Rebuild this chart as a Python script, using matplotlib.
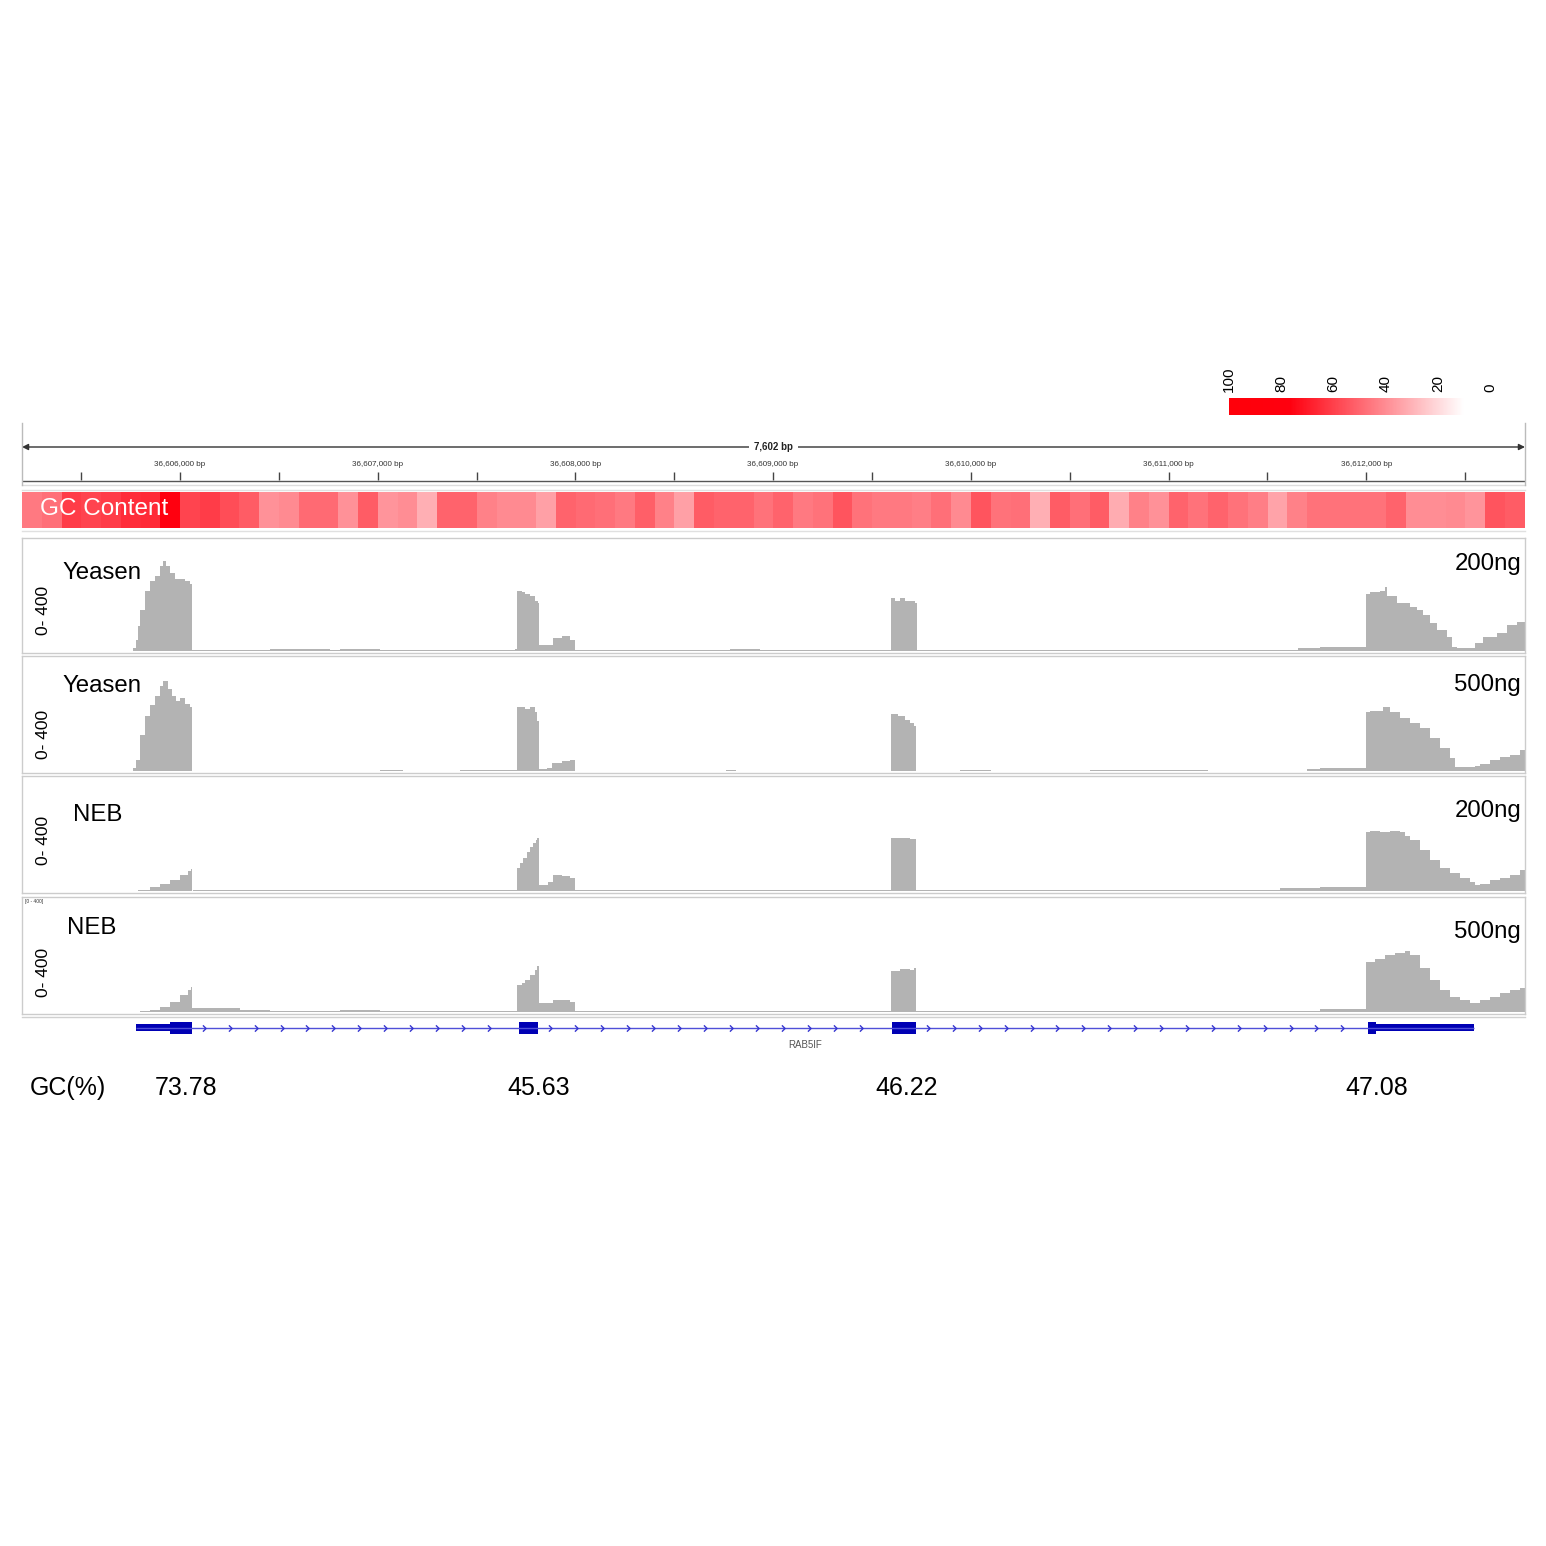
import numpy as np
import matplotlib
matplotlib.use("Agg")
import matplotlib.pyplot as plt
from matplotlib.colors import LinearSegmentedColormap, Normalize
from matplotlib.path import Path
from matplotlib.lines import Line2D

plt.rcParams['font.family'] = ['Liberation Sans', 'DejaVu Sans']

# ---------------- data ----------------
VIEW_START, VIEW_END = 36605201, 36612803
CHROM_TICKS = [36606000, 36607000, 36608000, 36609000, 36610000, 36611000, 36612000]

# GC content in 100-bp windows starting at 36605201
gc_window = 100
gc_values = [45, 48, 61, 59, 61, 65, 66, 77, 59, 61, 57, 53, 39, 41, 49, 49, 39, 53, 38, 40,
             31, 51, 51, 43, 41, 41, 35, 51, 49, 48, 45, 52, 43, 35, 53, 51, 51, 47, 51, 45,
             47, 55, 47, 45, 45, 44, 48, 41, 55, 47, 48, 31, 53, 48, 53, 32, 43, 39, 51, 47,
             51, 47, 44, 34, 43, 47, 47, 47, 47, 51, 40, 40, 41, 38, 55, 53]
colorbar_ticks = [100, 80, 60, 40, 20, 0]

track_names = ['Yeasen', 'Yeasen', 'NEB', 'NEB']
track_amounts = ['200ng', '500ng', '200ng', '500ng']
data_range = '0- 400'

yeasen200_pos = [36605201, 36605762, 36605778, 36605788, 36605798, 36605823, 36605848, 36605874, 36605899,
                 36605914, 36605929, 36605950, 36605975, 36606000, 36606025, 36606051, 36606061,
                 36606278, 36606455, 36606759, 36606809, 36607012, 36607315, 36607568, 36607644, 36607695,
                 36607705, 36607730, 36607745, 36607770, 36607796, 36607811,
                 36607816, 36607887, 36607932, 36607973, 36607998, 36608038,
                 36608377, 36608630, 36608782, 36608934, 36609136, 36609389, 36609541,
                 36609596, 36609616, 36609642, 36609667, 36609692, 36609718,
                 36609728, 36609895, 36610148, 36610603, 36610957, 36611058, 36611412, 36611655, 36611766,
                 36611999, 36612019, 36612070, 36612095, 36612105, 36612155, 36612221, 36612257, 36612287,
                 36612323, 36612358, 36612409, 36612434, 36612459, 36612550, 36612590, 36612661, 36612712,
                 36612763]
yeasen200_cov = [0, 10, 39, 90, 145, 216, 251, 269, 304,
                 322, 304, 280, 258, 258, 251, 241, 5,
                 4, 7, 4, 6, 3, 5, 3, 3, 7,
                 216, 212, 205, 198, 180, 173,
                 21, 46, 53, 39, 4, 2,
                 3, 2, 8, 3, 2, 3, 2,
                 188, 180, 191, 180, 177, 173,
                 3, 4, 3, 4, 5, 4, 4, 10, 14,
                 205, 212, 216, 227, 198, 173, 156, 145, 127,
                 99, 74, 50, 14, 11, 28, 50, 64, 92,
                 103]

yeasen500_pos = [36605201, 36605762, 36605778, 36605798, 36605823, 36605848, 36605874, 36605899, 36605914,
                 36605939, 36605960, 36605980, 36606000, 36606025, 36606051, 36606061,
                 36607012, 36607130, 36607416, 36607568, 36607644,
                 36607705, 36607745, 36607770, 36607796, 36607806,
                 36607816, 36607856, 36607882, 36607932, 36607973, 36607998,
                 36608760, 36608810,
                 36609596, 36609632, 36609667, 36609692, 36609713, 36609723,
                 36609946, 36610100, 36610603, 36610957, 36611058, 36611200, 36611700, 36611766,
                 36611999, 36612019, 36612085, 36612120, 36612171, 36612221, 36612272, 36612323, 36612373,
                 36612424, 36612449, 36612550, 36612575, 36612626, 36612677, 36612727, 36612778]
yeasen500_cov = [0, 10, 39, 127, 198, 234, 269, 304, 322,
                 294, 269, 251, 262, 241, 230, 0,
                 3, 0, 3, 4, 5,
                 228, 222, 228, 210, 180,
                 7, 12, 29, 36, 41, 0,
                 2, 0,
                 202, 195, 181, 173, 159, 0,
                 3, 0, 2, 4, 2, 0, 7, 11,
                 209, 216, 230, 209, 188, 173, 152, 117, 81,
                 46, 14, 18, 25, 39, 50, 57, 74]

neb200_pos = [36605201, 36605788, 36605848, 36605899, 36605950, 36606000, 36606041, 36606056, 36606061,
              36606066, 36606455, 36606809, 36607012, 36607315, 36607568,
              36607705, 36607720, 36607735, 36607755, 36607770, 36607786, 36607801, 36607806,
              36607816, 36607861, 36607887, 36607932, 36607973, 36607998,
              36608100, 36608400, 36609300, 36609541,
              36609596, 36609642, 36609692, 36609723,
              36610148, 36610400, 36611412, 36611564, 36611766,
              36611999, 36612019, 36612070, 36612120, 36612171, 36612196, 36612221, 36612272, 36612323,
              36612373, 36612424, 36612474, 36612525, 36612550, 36612575, 36612626, 36612677, 36612727,
              36612778]
neb200_cov = [0, 4, 14, 25, 39, 57, 71, 78, 0,
              2, 4, 3, 4, 2, 4,
              81, 99, 117, 138, 156, 170, 181, 191,
              21, 33, 57, 53, 46, 4,
              3, 2, 4, 3,
              188, 191, 184, 3,
              5, 3, 5, 11, 14,
              209, 216, 209, 213, 209, 198, 181, 145, 110,
              81, 64, 46, 32, 21, 25, 39, 46, 57,
              74]

neb500_pos = [36605201, 36605798, 36605848, 36605899, 36605950, 36606000, 36606041, 36606056, 36606061,
              36606304, 36606455, 36606700, 36606809, 36607012, 36607315, 36607568,
              36607705, 36607730, 36607745, 36607770, 36607796, 36607806,
              36607816, 36607887, 36607973, 36607998,
              36608377, 36609136, 36609541,
              36609596, 36609642, 36609692, 36609713, 36609723,
              36610603, 36611412, 36611766,
              36611999, 36612044, 36612095, 36612145, 36612196, 36612221, 36612272, 36612323, 36612373,
              36612424, 36612474, 36612525, 36612575, 36612626, 36612677, 36612727, 36612778]
neb500_cov = [0, 4, 7, 18, 35, 60, 78, 88, 14,
              7, 5, 4, 7, 4, 3, 4,
              96, 105, 113, 131, 149, 163,
              32, 42, 35, 4,
              3, 2, 3,
              145, 152, 149, 156, 3,
              4, 5, 10,
              177, 191, 202, 212, 219, 202, 156, 113, 78,
              53, 42, 32, 42, 53, 67, 78, 85]

coverage_pos = [yeasen200_pos, yeasen500_pos, neb200_pos, neb500_pos]
coverage_cov = [yeasen200_cov, yeasen500_cov, neb200_cov, neb500_cov]

gene_name = 'RAB5IF'
exon_starts = [36605778, 36607715, 36609601, 36612009]
exon_ends = [36606061, 36607811, 36609723, 36612545]
cds_start, cds_end = 36605950, 36612049

exon_gc = ['73.78', '45.63', '46.22', '47.08']
exon_gc_pos = [36606030, 36607816, 36609677, 36612055]

# ---------------- layout helpers ----------------
W = H = 1546
fig = plt.figure(figsize=(15.46, 15.46), dpi=100)


def ax_px(x0, y0, x1, y1):
    return fig.add_axes([x0 / W, 1 - y1 / H, (x1 - x0) / W, (y1 - y0) / H])


def ftext(x, y, s, **kw):
    return fig.text(x / W, 1 - y / H, s, **kw)


def fline(x0, x1, y0, y1, **kw):
    fig.add_artist(Line2D([x0 / W, x1 / W], [1 - y0 / H, 1 - y1 / H], transform=fig.transFigure, **kw))


cmap = LinearSegmentedColormap.from_list(
    'gc', [(0.0, (1, 1, 1)), (0.10, (1, 1, 1)), (0.77, (1, 0, 0.06)), (1.0, (1, 0, 0.04))])
norm = Normalize(0, 100)

# ---------------- colour bar ----------------
cax = ax_px(1229, 398, 1490, 415)
grad = np.linspace(100, 9, 300)[None, :]
cax.imshow(grad, cmap=cmap, norm=norm, aspect='auto', extent=(100, 9, 0, 1))
cax.set_xlim(100, 0)
cax.set_ylim(0, 1)
cax.axis('off')
for v in colorbar_ticks:
    cax.annotate(str(v), xy=(v, 1), xycoords=('data', 'axes fraction'), xytext=(0, 4.5),
                 textcoords='offset points', rotation=90, ha='center', va='bottom', fontsize=11)

# ---------------- ruler ----------------
rax = ax_px(22, 423, 1525, 486)
rax.set_xlim(VIEW_START, VIEW_END)
rax.set_ylim(486, 423)
rax.axis('off')
rax.annotate('', xy=(VIEW_END, 447), xytext=(VIEW_START, 447),
             arrowprops=dict(arrowstyle='<|-|>', color='#333333', lw=1, mutation_scale=9,
                             shrinkA=0, shrinkB=0))
rax.text((VIEW_START + VIEW_END) / 2, 447, f"{VIEW_END - VIEW_START:,} bp", ha='center', va='center',
         fontsize=7, fontweight='bold', color='#222222',
         bbox=dict(facecolor='white', edgecolor='none', pad=4))
minor = np.arange(CHROM_TICKS[0] - 500, VIEW_END, 500)
rax.vlines(minor, 472, 480, color='#444444', lw=1)
for t in CHROM_TICKS:
    rax.text(t, 465, f"{t:,} bp", ha='center', va='center', fontsize=5.8, color='#333333')
rax.hlines(480.5, VIEW_START, VIEW_END, color='#555555', lw=1)
fline(22, 1525, 485, 485, color='#dddddd', lw=1)
fline(22, 22, 423, 485, color='#bbbbbb', lw=1)
fline(1525, 1525, 423, 485, color='#bbbbbb', lw=1)

# ---------------- GC content bar ----------------
gax = ax_px(22, 492, 1525, 528)
starts = VIEW_START + gc_window * np.arange(len(gc_values))
gax.bar(starts, 1, width=gc_window, align='edge', color=cmap(norm(np.array(gc_values))), lw=0)
gax.set_xlim(VIEW_START, VIEW_END)
gax.set_ylim(0, 1)
gax.axis('off')
ftext(40, 509, 'GC Content', color='white', fontsize=17.5, ha='left', va='center')
fline(22, 1525, 489.5, 489.5, color='#e0e0e0', lw=1)
fline(22, 1525, 531, 531, color='#e0e0e0', lw=1)

# ---------------- coverage tracks ----------------
track_boxes = [(538, 653), (656, 773), (776, 893), (897, 1014)]
name_pos = [(62, 579), (62, 692), (73, 821), (67, 934)]
amount_pos = [(1521, 570), (1521, 691), (1521, 817), (1521, 938)]
range_pos = [610, 734, 840, 972]
units_per_px = 400 / 112.0
for i, (top, bot) in enumerate(track_boxes):
    ax = ax_px(22, top, 1525, bot)
    pos = np.array(coverage_pos[i] + [VIEW_END])
    cov = np.array(coverage_cov[i] + [coverage_cov[i][-1]])
    ax.fill_between(pos, cov, 0, step='post', color='#b3b3b3', lw=0)
    lo = -2.0 * units_per_px
    ax.set_ylim(lo, lo + (bot - top) * units_per_px)
    ax.set_xlim(VIEW_START, VIEW_END)
    ax.set_xticks([])
    ax.set_yticks([])
    for s in ax.spines.values():
        s.set_color('#cccccc')
        s.set_linewidth(1)
    ftext(name_pos[i][0], name_pos[i][1], track_names[i], fontsize=17.3, ha='left', va='baseline')
    ftext(amount_pos[i][0], amount_pos[i][1], track_amounts[i], fontsize=17.3, ha='right', va='baseline')
    ftext(43, range_pos[i], data_range, fontsize=12.5, rotation=90, ha='center', va='center')
ftext(25, 902, '[0 - 400]', fontsize=3.5, ha='left', va='center', color='#333333')
fline(22, 1525, 1016.5, 1016.5, color='#d0d0d0', lw=1)

# ---------------- gene track ----------------
gx = ax_px(22, 1018, 1525, 1052)
gx.set_xlim(VIEW_START, VIEW_END)
gx.set_ylim(1052, 1018)
gx.axis('off')
yc = 1028
gene_color = '#0000b4'
gx.hlines(yc, exon_starts[0], exon_ends[-1], color='#5050d8', lw=1)
chev = Path([(-0.5, 1), (0.5, 0), (-0.5, -1)], [Path.MOVETO, Path.LINETO, Path.LINETO])
for e_end, n_start in zip(exon_ends[:-1], exon_starts[1:]):
    xs = np.arange(e_end + 60, n_start - 40, 131)
    gx.plot(xs, np.full(len(xs), yc), linestyle='none', marker=chev, markersize=4.5,
            markerfacecolor='none', markeredgecolor='#3535d0', markeredgewidth=1)
for s, e in zip(exon_starts, exon_ends):
    # UTR part
    gx.add_patch(plt.Rectangle((s, yc - 3.5), e - s, 7, color=gene_color, lw=0))
    cs, ce = max(s, cds_start), min(e, cds_end)
    if ce > cs:
        gx.add_patch(plt.Rectangle((cs, yc - 6), ce - cs, 12, color=gene_color, lw=0))
gx.text((exon_starts[0] + exon_ends[-1]) / 2, 1045, gene_name, ha='center', va='center',
        fontsize=7, color='#555555')

# ---------------- exon GC row ----------------
ftext(30, 1095, 'GC(%)', fontsize=18, ha='left', va='baseline')
rowax = ax_px(22, 1070, 1525, 1102)
rowax.set_xlim(VIEW_START, VIEW_END)
rowax.set_ylim(1102, 1070)
rowax.axis('off')
for p, s in zip(exon_gc_pos, exon_gc):
    rowax.text(p, 1095, s, fontsize=18, ha='center', va='baseline')

fig.savefig('out.png', dpi=100, facecolor='white')
